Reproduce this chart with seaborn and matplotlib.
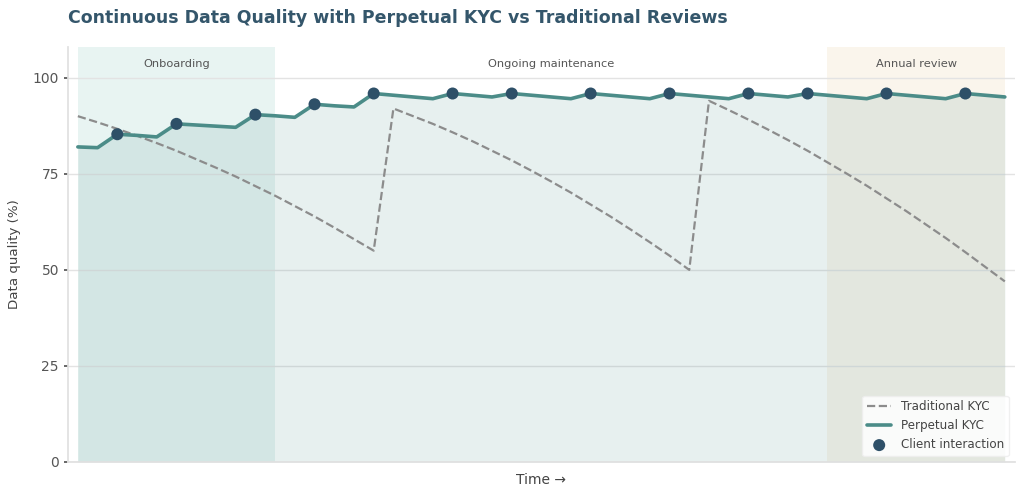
import matplotlib
matplotlib.use("Agg")
import matplotlib.pyplot as plt
import numpy as np
import pandas as pd
import seaborn as sns

# months 0..47
months = list(range(48))

# traditional KYC: periodic reviews at month 16 and 32, decaying in between
traditional = [
    90.0, 88.4, 86.7, 84.9, 83.0, 81.0, 78.8, 76.6, 74.3, 71.8, 69.3, 66.6, 63.9, 61.0, 58.0, 55.0,
    92.0, 90.0, 88.0, 85.8, 83.5, 81.0, 78.5, 75.8, 73.0, 70.1, 67.0, 63.9, 60.6, 57.2, 53.7, 50.0,
    94.0, 91.6, 89.1, 86.5, 83.8, 81.0, 78.0, 75.0, 71.9, 68.6, 65.3, 61.8, 58.3, 54.6, 50.8, 47.0,
]

# perpetual KYC: small drift, topped up at each client interaction
perpetual = [
    82.0, 81.8, 85.3, 85.0, 84.6, 88.0, 87.7, 87.4, 87.1, 90.4, 90.1, 89.7,
    93.1, 92.7, 92.4, 95.9, 95.45, 95.0, 94.55, 95.9, 95.45, 95.0, 95.9, 95.45,
    95.0, 94.55, 95.9, 95.45, 95.0, 94.55, 95.9, 95.45, 95.0, 94.55, 95.9, 95.45,
    95.0, 95.9, 95.45, 95.0, 94.55, 95.9, 95.45, 95.0, 94.55, 95.9, 95.45, 95.0,
]

interaction_months = [2, 5, 9, 12, 15, 19, 22, 26, 30, 34, 37, 41, 45]

phases = ["Onboarding", "Ongoing maintenance", "Annual review"]
phase_bounds = [(0, 10), (10, 38), (38, 47)]
phase_colors = ["#5fb3a6", None, "#e0bd7a"]

yticks = [0, 25, 50, 75, 100]

TEAL = "#4b8c88"
DARK = "#2e5068"
GREY = "#8c8c8c"

df = pd.DataFrame({"month": months, "traditional": traditional, "perpetual": perpetual})
pts = df[df["month"].isin(interaction_months)]

sns.set_theme(style="ticks")
plt.rcParams["font.family"] = ["DejaVu Sans"]

fig = plt.figure(figsize=(10.24, 4.98), dpi=100)
ax = fig.add_axes([0.0664, 0.0723, 0.9245, 0.8333])

# phase background bands
for (x0, x1), c in zip(phase_bounds, phase_colors):
    if c is not None:
        ax.axvspan(x0, x1, color=c, alpha=0.14, lw=0, zorder=0)
for name, (x0, x1) in zip(phases, phase_bounds):
    ax.text((x0 + x1) / 2, 103.5, name, ha="center", va="center", fontsize=8.2, color="#555555")

ax.fill_between(df["month"], 0, df["perpetual"], color=TEAL, alpha=0.13, lw=0, zorder=1)

sns.lineplot(data=df, x="month", y="traditional", ax=ax, color=GREY, lw=1.6,
             linestyle="--", label="Traditional KYC", zorder=2)
sns.lineplot(data=df, x="month", y="perpetual", ax=ax, color=TEAL, lw=2.6,
             label="Perpetual KYC", zorder=3)
sns.scatterplot(data=pts, x="month", y="perpetual", ax=ax, color=DARK, s=75,
                edgecolor="none", label="Client interaction", zorder=4)

ax.set_xlim(-0.5, 47.5)
ax.set_ylim(0, 108)
ax.set_xticks([])
ax.set_yticks(yticks)
ax.yaxis.grid(True, color="#e3e3e3", lw=1)
ax.set_axisbelow(True)
ax.tick_params(axis="y", labelsize=10, colors="#555555", length=3, color="#555555")
for side in ["top", "right"]:
    ax.spines[side].set_visible(False)
for side in ["left", "bottom"]:
    ax.spines[side].set_color("#e0e0e0")

ax.set_xlabel("Time \u2192", fontsize=10, color="#444444", labelpad=8)
ax.set_ylabel("Data quality (%)", fontsize=9.6, color="#444444", labelpad=8)
ax.set_title("Continuous Data Quality with Perpetual KYC vs Traditional Reviews",
             loc="left", fontsize=12.5, fontweight="bold", color="#34566b", pad=17)

leg = ax.legend(loc="lower right", fontsize=8.6, frameon=True, framealpha=0.85,
                edgecolor="#eeeeee", borderaxespad=0.5)
for t in leg.get_texts():
    t.set_color("#444444")

fig.savefig("out.png", dpi=100)
plt.close(fig)
